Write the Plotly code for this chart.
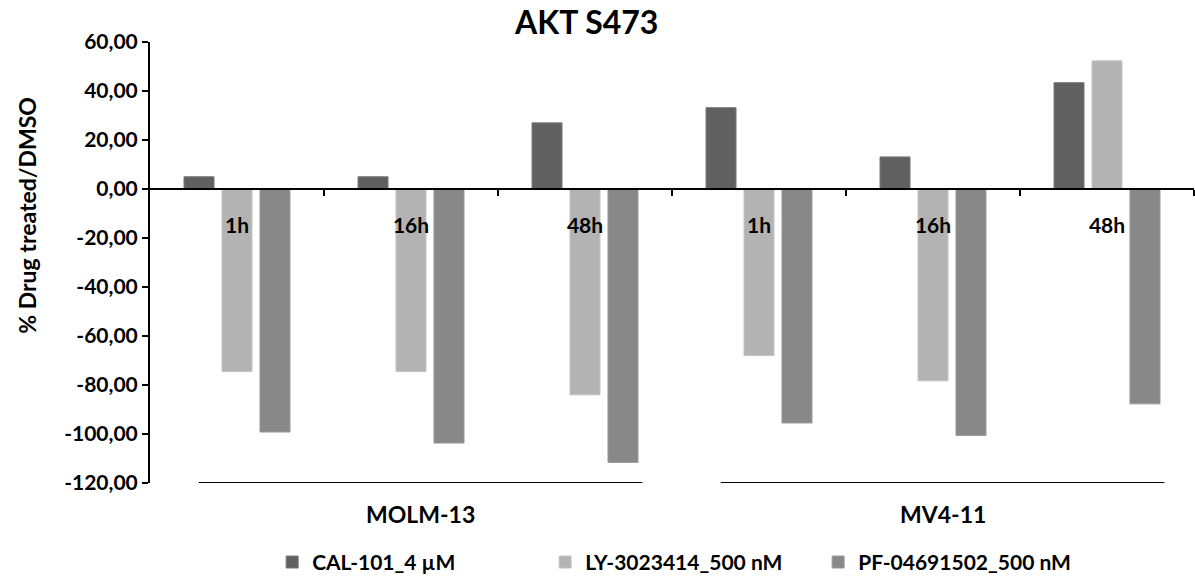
import plotly.graph_objects as go

# Fold change of AKT S473 phosphorylation, drug treated vs DMSO (%)
cell_lines = ["MOLM-13", "MV4-11"]
timepoints = ["1h", "16h", "48h"]
series_names = ["CAL-101_4 µM", "LY-3023414_500 nM", "PF-04691502_500 nM"]
cal101 = [5.0, 5.0, 27.0, 33.2, 13.1, 43.4]
ly3023414 = [-74.5, -74.5, -84.0, -68.0, -78.3, 52.3]
pf04691502 = [-99.2, -103.7, -111.6, -95.5, -100.6, -87.7]
y_ticks = [60, 40, 20, 0, -20, -40, -60, -80, -100, -120]

colors = ["#606060", "#b3b3b3", "#888888"]
edge = ["#7a7a7a", "#c4c4c4", "#9a9a9a"]
font_family = "Lato"


def comma_fmt(v):
    return f"{v:.2f}".replace(".", ",")


tick_text = [t for _ in cell_lines for t in timepoints]
xs = list(range(len(tick_text)))
y_min, y_max = min(y_ticks), max(y_ticks)

fig = go.Figure()
for name, vals, c, e in zip(series_names, [cal101, ly3023414, pf04691502], colors, edge):
    fig.add_trace(go.Bar(
        x=xs, y=vals, name=f"<b>{name}</b>",
        marker=dict(color=c, line=dict(color=e, width=1)),
    ))

# underline + label for each cell line group
n_t = len(timepoints)
for gi, cl in enumerate(cell_lines):
    first = gi * n_t
    last = first + n_t - 1
    x0 = first - 0.22
    x1 = last + 0.33
    fig.add_shape(type="line", xref="x", yref="y", x0=x0, x1=x1, y0=y_min, y1=y_min,
                  line=dict(color="black", width=2))
    fig.add_annotation(x=(x0 + x1) / 2, xref="x", y=-0.07, yref="paper",
                       text=f"<b>{cl}</b>", showarrow=False,
                       font=dict(size=23, color="black", family=font_family),
                       yanchor="middle")

# y axis title, placed as a rotated annotation
fig.add_annotation(text="<b>% Drug treated/DMSO</b>", textangle=-90,
                   xref="paper", x=-0.118, xanchor="center",
                   yref="paper", y=0.608, yanchor="middle", showarrow=False,
                   font=dict(size=23, color="black", family=font_family))

fig.update_layout(
    width=1195, height=578,
    margin=dict(l=150, r=1, t=42, b=95, autoexpand=False),
    paper_bgcolor="white", plot_bgcolor="white",
    barmode="group", bargap=0.345, bargroupgap=0.21,
    title=dict(text="<b>AKT S473</b>", x=0.491, xanchor="center", y=0.96, yanchor="middle",
               font=dict(size=32, color="black", family=font_family)),
    font=dict(family=font_family, color="black"),
    legend=dict(orientation="h", x=0.117, xanchor="left", y=-0.18, yanchor="middle",
                font=dict(size=21, color="black", family=font_family),
                entrywidth=228, entrywidthmode="pixels"),
    showlegend=True,
)

fig.update_xaxes(
    range=[-0.5, len(xs) - 0.5],
    anchor="free", position=(0 - y_min) / (y_max - y_min),
    showline=True, linecolor="black", linewidth=2,
    showgrid=False, zeroline=False,
    tickmode="array", tickvals=xs, ticktext=[f"<b>{t}</b>" for t in tick_text],
    ticks="", ticklabelstandoff=18,
    tickfont=dict(size=21, color="black", family=font_family),
    minor=dict(tickmode="array", tickvals=[x + 0.5 for x in xs],
               ticks="outside", ticklen=6, tickwidth=2, tickcolor="black", showgrid=False),
)
fig.update_yaxes(
    range=[y_min, y_max],
    tickmode="array", tickvals=y_ticks, ticktext=[f"<b>{comma_fmt(v)}</b>" for v in y_ticks],
    showline=True, linecolor="black", linewidth=2,
    ticks="outside", ticklen=6, tickwidth=2, tickcolor="black",
    showgrid=False, zeroline=False,
    tickfont=dict(size=21, color="black", family=font_family),
)

fig.write_html("out.html")
